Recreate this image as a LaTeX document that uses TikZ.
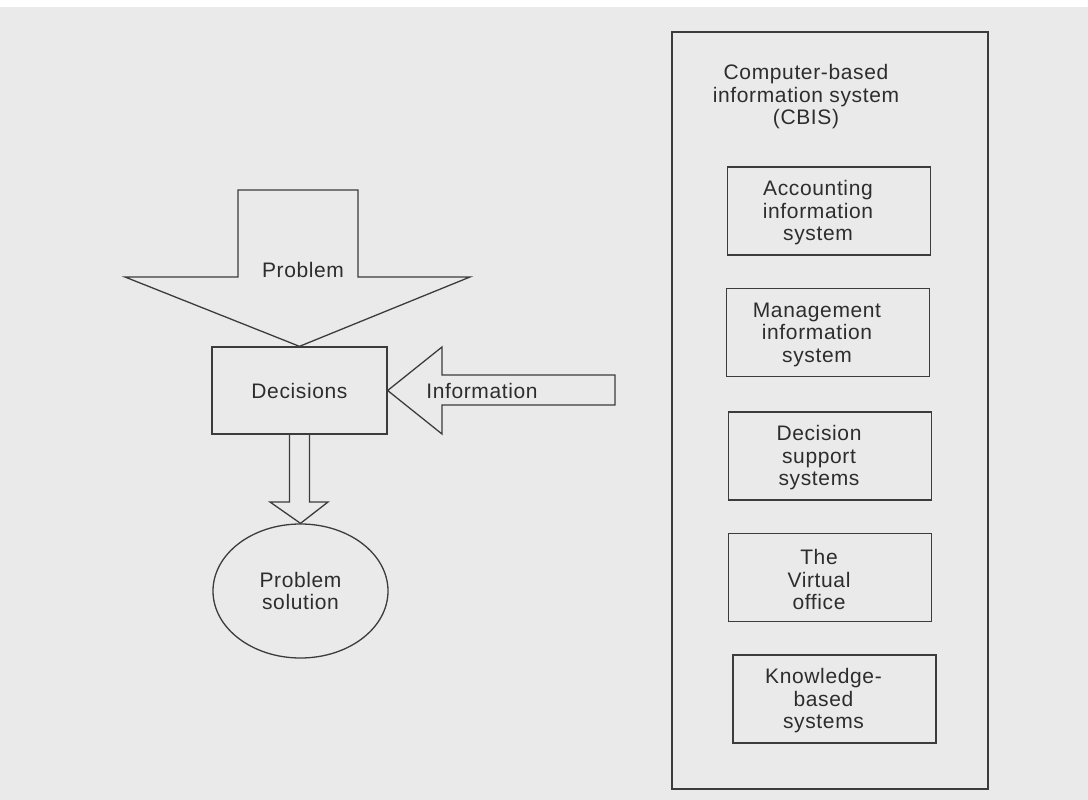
\documentclass[tikz,border=0pt]{standalone}
\usepackage{fontspec}
\setmainfont{Liberation Sans}[LetterSpace=3]
\usetikzlibrary{shapes.geometric,calc}
\definecolor{paper}{RGB}{234,234,234}
\definecolor{ink}{RGB}{60,60,60}
\definecolor{txt}{RGB}{45,45,45}
\begin{document}
\begin{tikzpicture}[x=1pt,y=-1pt,
  line width=1.3pt,
  every node/.style={text=txt,font=\fontsize{21}{22.5}\selectfont,align=center},
  box/.style={draw=ink,minimum width=203pt,minimum height=88pt,inner sep=0pt},
  boxtext/.style={label={[xshift=-11pt,yshift=-2pt]center:#1}},
  blockarrow/.style={draw=ink,line join=miter}]
% page
\fill[white] (0,0) rectangle (1088,800);
\fill[paper] (0,7) rectangle (1088,800);
\useasboundingbox (0,0) rectangle (1088,800);

% decision flow
\node[draw=ink,minimum width=175pt,minimum height=87pt,inner sep=0pt] (dec) at (299.5,390.5) {Decisions};
\node[draw=ink,ellipse,minimum width=175pt,minimum height=134pt,inner sep=0pt] (sol) at (300.5,591) {Problem\\solution};
\node (prob) at (303,270) {Problem};
\node (info) at (482,391) {Information};

% "Problem" block arrow into Decisions
\draw[blockarrow] (238,190) -- (238,277) -- (125,277) -- (dec.north)
  -- (470,277) -- (358,277) -- (358,190) -- cycle;
% "Information" block arrow into Decisions
\draw[blockarrow] (dec.east) -- (442,347) -- (442,375) -- (615,375)
  -- (615,405) -- (442,405) -- (442,434) -- cycle;
% Decisions to Problem solution
\draw[blockarrow] ($(dec.south)+(-10,0)$) -- (289.5,502) -- (270,502) -- (sol.north)
  -- (328,502) -- (309.5,502) -- ($(dec.south)+(10,0)$);

% CBIS panel
\draw[draw=ink] (672,32) rectangle (988,789);
\node (cbis) at (806,97) {Computer-based\\information system\\(CBIS)};
\node[box,boxtext={Accounting\\information\\system}] (ais) at (829,211) {};
\node[box,boxtext={Management\\information\\system}] (mis) at (828,332.5) {};
\node[box,boxtext={Decision\\support\\systems}] (dss) at (830,456) {};
\node[box,boxtext={The\\Virtual\\office}] (vo) at (830,577.5) {};
\node[box,boxtext={Knowledge-\\based\\systems}] (kbs) at (834.5,699) {};
\end{tikzpicture}
\end{document}
